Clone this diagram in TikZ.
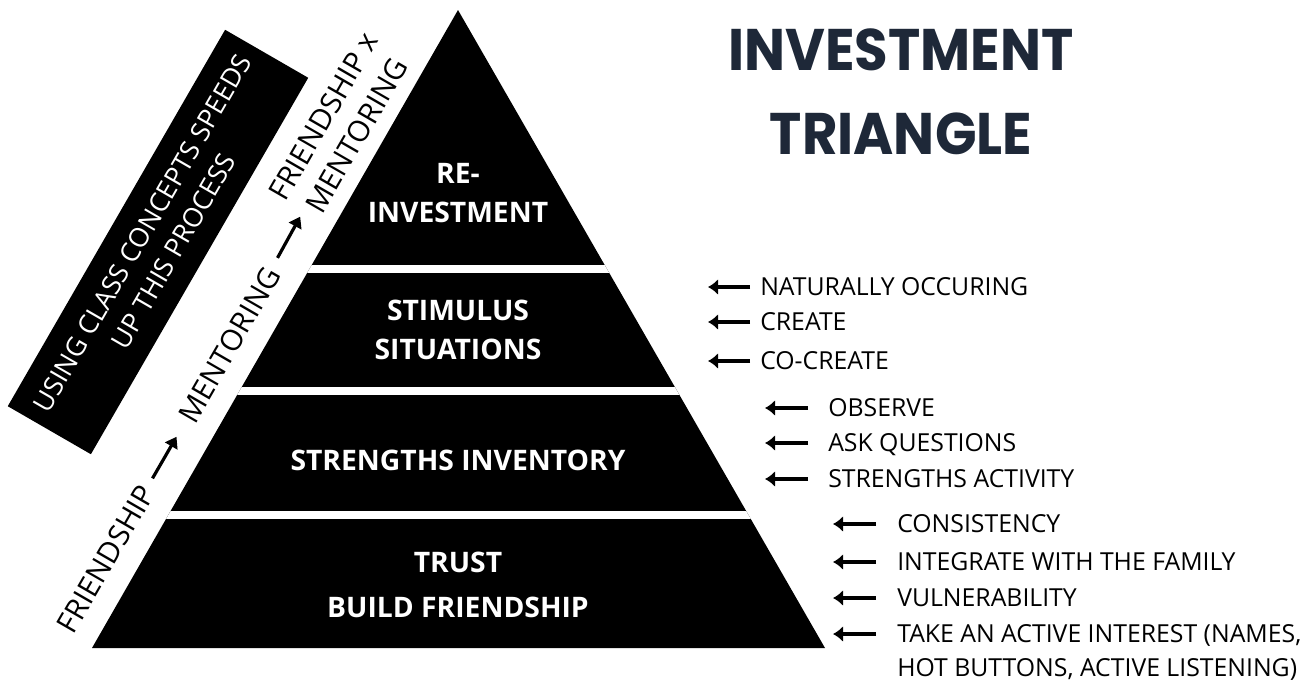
\documentclass[tikz,border=0pt]{standalone}
\usepackage{fontspec}
\setmainfont{Open Sans}
\newfontfamily\titlefont{Poppins}
\usepackage{tikz}
\usetikzlibrary{arrows.meta}
\definecolor{titleblue}{RGB}{30,40,56}

\begin{document}
\begin{tikzpicture}[x=0.75pt,y=0.75pt,yscale=-1,xscale=1,
  band/.style={text=white,inner sep=0.75pt,align=center,font=\fontsize{21.2}{29.25}\selectfont\bfseries},
  item/.style={anchor=west,inner sep=0pt,text height=13.3pt,text depth=0pt,font=\fontsize{18.6}{22}\selectfont},
  pointer/.style={line width=3pt,-{Latex[length=7.5pt,width=12pt]}},
  stripe/.style={rotate=60,inner sep=0.75pt,align=center,font=\fontsize{22}{28.9}\selectfont},
  uparrow/.style={line width=2.4pt,-{Triangle[length=8pt,width=10.5pt]}}
]
\useasboundingbox (0,0) rectangle (1311,682);

%Shape: Triangle
\begin{scope}
\clip (458,10) -- (825,648) -- (92,648) -- cycle;
\fill (0,0) rectangle (1311,682);
%Straight Lines
\fill [white] (0,265) rectangle (1311,273);
\fill [white] (0,387) rectangle (1311,395);
\fill [white] (0,511) rectangle (1311,519);
\end{scope}

% Text Node
\draw (458,193) node (reinv) [band] {RE-\\INVESTMENT};
% Text Node
\draw (458,330) node (stim) [band] {STIMULUS\\SITUATIONS};
% Text Node
\draw (458,460) node (strength) [band] {STRENGTHS INVENTORY};
% Text Node
\draw (458,585) node (trust) [band, font=\fontsize{21.2}{33.75}\selectfont\bfseries] {TRUST\\BUILD FRIENDSHIP};

%Shape: Rectangle
\draw (158,242) node (speeds) [rotate=60, fill=black, text=white, minimum width=326pt, minimum height=72pt, align=center, font=\fontsize{20}{27}\selectfont] {USING CLASS CONCEPTS SPEEDS\\UP THIS PROCESS};

% Text Node
\draw (106,558.9) node (frnd) [stripe] {FRIENDSHIP};
% Text Node
\draw (229.5,345) node (ment) [stripe] {MENTORING};
% Text Node
\draw (340,126) node (frment) [stripe] {FRIENDSHIP x\\MENTORING};
\coordinate (tip2) at (300.2,216.7);
%Straight Lines
\draw [uparrow, shorten <=69.75pt, shorten >=79.5pt] (frnd.center) -- (ment.center);
%Straight Lines
\draw [uparrow, shorten <=74.6pt] (ment.center) -- (tip2);

% Text Node
\draw (901,92) node (title) [text=titleblue, align=center, xscale=0.93, font=\titlefont\bfseries\fontsize{44}{63}\selectfont] {INVESTMENT\\TRIANGLE};

% Text Node
\draw (760,287) node (nat) [item] {NATURALLY OCCURING};
% Text Node
\draw (760,322) node (create) [item] {CREATE};
% Text Node
\draw (760,361) node (cocreate) [item] {CO-CREATE};
\coordinate (p1) at (708,287);
\coordinate (p2) at (708,322);
\coordinate (p3) at (708,361);
%Straight Lines
\draw [pointer, shorten <=7.5pt] (nat.west) -- (p1);
\draw [pointer, shorten <=7.5pt] (create.west) -- (p2);
\draw [pointer, shorten <=7.5pt] (cocreate.west) -- (p3);

% Text Node
\draw (828,408) node (observe) [item] {OBSERVE};
% Text Node
\draw (828,443) node (ask) [item] {ASK QUESTIONS};
% Text Node
\draw (828,479) node (activity) [item] {STRENGTHS ACTIVITY};
\coordinate (p4) at (765,408);
\coordinate (p5) at (765,443);
\coordinate (p6) at (765,479);
%Straight Lines
\draw [pointer, shorten <=15pt] (observe.west) -- (p4);
\draw [pointer, shorten <=15pt] (ask.west) -- (p5);
\draw [pointer, shorten <=15pt] (activity.west) -- (p6);

% Text Node
\draw (897,524) node (consist) [item] {CONSISTENCY};
% Text Node
\draw (897,562) node (family) [item] {INTEGRATE WITH THE FAMILY};
% Text Node
\draw (897,598) node (vulner) [item] {VULNERABILITY};
% Text Node
\draw (897,634) node (interest) [item] {TAKE AN ACTIVE INTEREST (NAMES,};
% Text Node
\draw (897,668) node (buttons) [item] {HOT BUTTONS, ACTIVE LISTENING)};
\coordinate (p7) at (833,524);
\coordinate (p8) at (833,562);
\coordinate (p9) at (833,598);
\coordinate (p10) at (833,634);
%Straight Lines
\draw [pointer, shorten <=15.75pt] (consist.west) -- (p7);
\draw [pointer, shorten <=15.75pt] (family.west) -- (p8);
\draw [pointer, shorten <=15.75pt] (vulner.west) -- (p9);
\draw [pointer, shorten <=15.75pt] (interest.west) -- (p10);

\end{tikzpicture}
\end{document}
